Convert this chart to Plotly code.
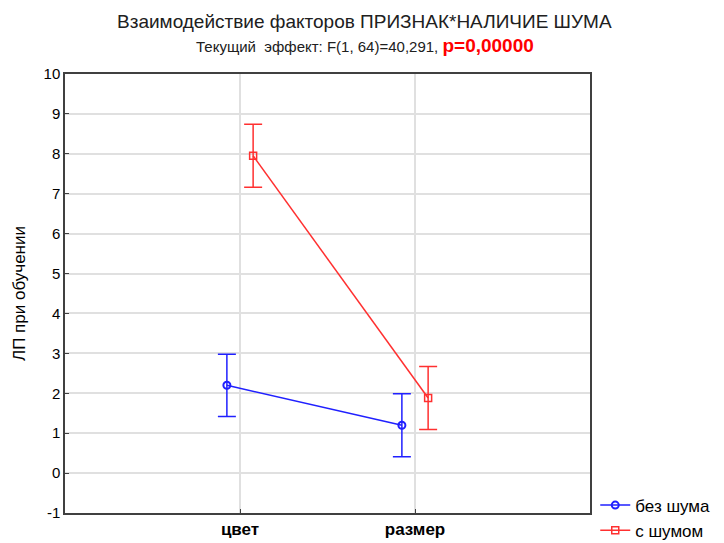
import plotly.graph_objects as go

categories = ["цвет", "размер"]
series_names = ["без шума", "с шумом"]
no_noise = [2.2, 1.2]
no_noise_err = [0.78, 0.79]
with_noise = [7.95, 1.88]
with_noise_err = [0.79, 0.79]
y_ticks = [-1, 0, 1, 2, 3, 4, 5, 6, 7, 8, 9, 10]
y_tick_labels = [str(v) for v in y_ticks]

pos = [1, 2]
off = 0.075

fig = go.Figure()
fig.add_trace(go.Scatter(
    x=[p - off for p in pos], y=no_noise, name=series_names[0],
    mode="lines+markers",
    line=dict(color="#2020ff", width=1.5),
    marker=dict(symbol="circle-open", size=7, color="#2020ff", line=dict(width=2)),
    error_y=dict(type="data", array=no_noise_err, color="#2020ff", thickness=1.5, width=9),
))
fig.add_trace(go.Scatter(
    x=[p + off for p in pos], y=with_noise, name=series_names[1],
    mode="lines+markers",
    line=dict(color="#ff3030", width=1.5),
    marker=dict(symbol="square-open", size=7, color="#ff3030", line=dict(width=1.5)),
    error_y=dict(type="data", array=with_noise_err, color="#ff3030", thickness=1.5, width=9),
))

fig.update_layout(
    width=716, height=535,
    margin=dict(l=57, r=134, t=66, b=30, autoexpand=False),
    paper_bgcolor="white", plot_bgcolor="white",
    font=dict(family="Liberation Sans, Arial, sans-serif", color="black"),
    showlegend=True,
    legend=dict(x=1.01, y=0.058, xanchor="left", yanchor="top",
                font=dict(size=17, color="black"), bgcolor="rgba(0,0,0,0)",
                tracegroupgap=0, itemwidth=30),
    xaxis=dict(range=[0, 3], tickvals=pos, ticktext=["<b>" + c + "</b>" for c in categories],
               tickfont=dict(size=17, family="Liberation Sans, Arial, sans-serif"),
               showgrid=True, gridcolor="#e0e0e0", gridwidth=1.5,
               showline=True, linecolor="#404040", linewidth=1.5, mirror=True,
               ticks="inside", ticklen=4, tickcolor="#404040", zeroline=False),
    yaxis=dict(range=[-1, 10], tickvals=y_ticks, ticktext=y_tick_labels,
               tickfont=dict(size=15),
               showgrid=True, gridcolor="#e0e0e0", gridwidth=1.5,
               showline=True, linecolor="#404040", linewidth=1.5, mirror=True,
               ticks="inside", ticklen=4, tickcolor="#404040", zeroline=False,
               title=dict(text="ЛП при обучении", font=dict(size=17), standoff=14)),
)

fig.add_annotation(x=0.571, y=1.0, xref="paper", yref="paper", xanchor="center", yanchor="bottom",
                   yshift=40, showarrow=False,
                   text="Взаимодействие факторов ПРИЗНАК*НАЛИЧИЕ ШУМА",
                   font=dict(size=19, color="#202020"))
fig.add_annotation(x=0.571, y=1.0, xref="paper", yref="paper", xanchor="center", yanchor="bottom",
                   yshift=16, showarrow=False,
                   text="Текущий  эффект: F(1, 64)=40,291, <span style='color:#ff0000;font-size:19px'><b>p=0,00000</b></span>",
                   font=dict(size=15, color="#202020"))

fig.write_html("out.html")
